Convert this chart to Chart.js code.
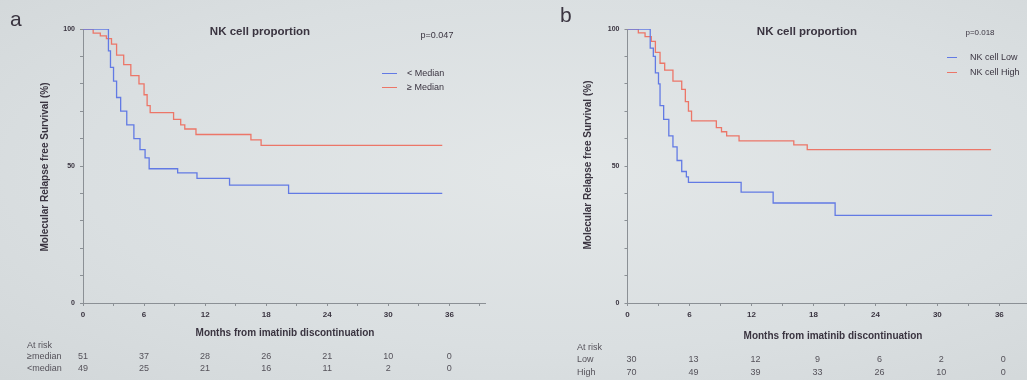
<!DOCTYPE html>
<html>
<head>
<meta charset="utf-8">
<script src="https://cdn.jsdelivr.net/npm/chart.js@4.4.1/dist/chart.umd.min.js"></script>
<style>
  html, body { margin: 0; padding: 0; }
  body {
    width: 1027px; height: 380px; overflow: hidden; position: relative;
    background: radial-gradient(ellipse at 55% 45%, #e3e7e8 0%, #dadfe1 60%, #d2d7d9 100%);
    font-family: "Liberation Sans", Arial, sans-serif; color: #3a3440;
  }
  canvas { position: absolute; top: 0; }
  .t { position: absolute; white-space: nowrap; line-height: 1; }
  .c { transform: translate(-50%, -50%); }
  .l { transform: translate(0, -50%); }
  .sw { position: absolute; height: 1px; }
</style>
</head>
<body>
<canvas id="chartA" width="510" height="380" style="left:0"></canvas>
<canvas id="chartB" width="540" height="380" style="left:510px"></canvas>
<div id="labels"></div>
<script>
// panel a: NK cell proportion split at the median
const aLowMonths  = [0, 2.5, 2.7, 3.0, 3.3, 3.7, 4.3, 5.0, 5.6, 6.1, 6.5, 9.3, 11.2, 14.4, 20.2, 35.3];
const aLowSurv    = [100, 92, 86, 81, 75, 70, 65, 60, 56, 53, 49, 47.5, 45.5, 43, 40, 40];
const aHighMonths = [0, 1.0, 1.7, 2.3, 2.8, 3.3, 4.0, 4.7, 5.5, 6.0, 6.3, 6.6, 8.9, 9.6, 10.0, 11.1, 16.5, 17.5, 35.3];
const aHighSurv   = [100, 98.5, 97.5, 96.5, 94.5, 90.5, 87, 83, 80, 76, 72, 69.5, 67, 65, 63.5, 61.5, 59.5, 57.5, 57.5];

// panel b: NK cell low / high
const bLowMonths  = [0, 2.2, 2.5, 2.7, 3.0, 3.15, 3.5, 4.0, 4.4, 4.8, 5.25, 5.7, 5.9, 11.0, 14.1, 20.1, 35.3];
const bLowSurv    = [100, 93, 90, 84, 80, 72, 67, 61, 57, 52, 48, 46, 44, 40.5, 36.5, 32, 32];
const bHighMonths = [0, 1.05, 1.7, 2.3, 2.7, 3.15, 3.6, 4.4, 5.25, 5.6, 5.9, 6.2, 8.6, 9.1, 9.6, 10.8, 16.1, 17.4, 35.2];
const bHighSurv   = [100, 98.6, 97.2, 95.5, 91.5, 87.5, 85, 81, 78, 73.5, 70, 66.5, 64, 62.5, 61, 59.2, 57.7, 56, 56];

const riskMonths = [0, 6, 12, 18, 24, 30, 36];
const aRiskHigh = [51, 37, 28, 26, 21, 10, 0];
const aRiskLow  = [49, 25, 21, 16, 11, 2, 0];
const bRiskLow  = [30, 13, 12, 9, 6, 2, 0];
const bRiskHigh = [70, 49, 39, 33, 26, 10, 0];

const BLUE = 'rgb(98, 122, 228)';
const RED = 'rgb(236, 118, 104)';
const AXIS = '#8b9095';
const INK = '#3a3440';

const toPts = (xs, ys) => xs.map((x, i) => ({ x, y: ys[i] }));

function makeChart(id, lowX, lowY, highX, highY, pad) {
  return new Chart(document.getElementById(id), {
    type: 'scatter',
    data: {
      datasets: [
        { data: toPts(lowX, lowY), borderColor: BLUE, showLine: true, stepped: true, pointRadius: 0, borderWidth: 1.3 },
        { data: toPts(highX, highY), borderColor: RED, showLine: true, stepped: true, pointRadius: 0, borderWidth: 1.3 }
      ]
    },
    options: {
      responsive: false,
      animation: false,
      layout: { padding: pad },
      plugins: { legend: { display: false }, tooltip: { enabled: false } },
      scales: {
        x: {
          type: 'linear', min: 0, max: 39.5,
          afterFit: s => { s.height = 20; },
          afterBuildTicks: s => { s.ticks = Array.from({ length: 14 }, (_, i) => ({ value: i * 3 })); },
          grid: { drawOnChartArea: false, tickLength: 3, color: AXIS },
          border: { color: AXIS, width: 1 },
          ticks: {
            autoSkip: false, maxRotation: 0, padding: 4, color: INK,
            font: { size: 8, weight: 'bold', family: '"Liberation Sans", Arial' },
            callback: v => (v % 6 === 0 ? v : '')
          }
        },
        y: {
          min: 0, max: 100,
          afterFit: s => { s.width = 30; },
          afterBuildTicks: s => { s.ticks = Array.from({ length: 11 }, (_, i) => ({ value: i * 10 })); },
          grid: { drawOnChartArea: false, tickLength: 3, color: AXIS },
          border: { color: AXIS, width: 1 },
          ticks: {
            autoSkip: false, padding: 5, color: INK,
            font: { size: 7, weight: 'bold', family: '"Liberation Sans", Arial' },
            callback: v => (v % 50 === 0 ? v : '')
          }
        }
      }
    }
  });
}

const chartA = makeChart('chartA', aLowMonths, aLowSurv, aHighMonths, aHighSurv,
  { left: 53, right: 25, top: 29, bottom: 57 });
const chartB = makeChart('chartB', bLowMonths, bLowSurv, bHighMonths, bHighSurv,
  { left: 87.5, right: 14.5, top: 29, bottom: 57 });

const box = document.getElementById('labels');
function label(text, x, y, cls, style) {
  const d = document.createElement('div');
  d.className = 't ' + cls;
  d.textContent = text;
  d.style.left = x + 'px';
  d.style.top = y + 'px';
  Object.assign(d.style, style || {});
  box.appendChild(d);
  return d;
}
function swatch(x1, x2, y, color) {
  const d = document.createElement('div');
  d.className = 'sw';
  d.style.left = x1 + 'px';
  d.style.width = (x2 - x1) + 'px';
  d.style.top = y + 'px';
  d.style.background = color;
  box.appendChild(d);
}

const small = { fontSize: '9px', color: '#55525a' };

// panel a texts
label('a', 10, 8, '', { fontSize: '21px' });
label('NK cell proportion', 260, 32, 'c', { fontSize: '11.5px', fontWeight: 'bold' });
label('p=0.047', 437, 35, 'c', { fontSize: '9px' });
swatch(382, 397, 73, BLUE);
swatch(382, 397, 87, RED);
label('< Median', 407, 73, 'l', { fontSize: '9px' });
label('\u2265 Median', 407, 87, 'l', { fontSize: '9px' });
label('Months from imatinib discontinuation', 285, 333, 'c', { fontSize: '10px', fontWeight: 'bold' });
label('Molecular Relapse free Survival (%)', 45, 167, '', {
  fontSize: '10px', fontWeight: 'bold', transform: 'translate(-50%, -50%) rotate(-90deg)'
});
label('At risk', 27, 345, 'l', small);
label('\u2265median', 27, 356, 'l', small);
label('<median', 27, 368, 'l', small);

// panel b texts
label('b', 560, 4, '', { fontSize: '21px' });
label('NK cell proportion', 807, 32, 'c', { fontSize: '11.5px', fontWeight: 'bold' });
label('p=0.018', 980, 33, 'c', { fontSize: '8px' });
swatch(947, 957, 57, BLUE);
swatch(947, 957, 72, RED);
label('NK cell Low', 970, 57, 'l', { fontSize: '9px' });
label('NK cell High', 970, 72, 'l', { fontSize: '9px' });
label('Months from imatinib discontinuation', 833, 336, 'c', { fontSize: '10px', fontWeight: 'bold' });
label('Molecular Relapse free Survival (%)', 588, 165, '', {
  fontSize: '10px', fontWeight: 'bold', transform: 'translate(-50%, -50%) rotate(-90deg)'
});
label('At risk', 577, 347, 'l', small);
label('Low', 577, 359, 'l', small);
label('High', 577, 372, 'l', small);

// at-risk numbers placed under the x scale ticks
function riskRow(chart, offsetX, values, y, shift) {
  const xs = chart.scales.x;
  values.forEach((v, i) => {
    label(String(v), offsetX + xs.getPixelForValue(riskMonths[i]) + shift, y, 'c', small);
  });
}
riskRow(chartA, 0, aRiskHigh, 356, 0);
riskRow(chartA, 0, aRiskLow, 368, 0);
riskRow(chartB, 510, bRiskLow, 359, 4);
riskRow(chartB, 510, bRiskHigh, 372, 4);
</script>
</body>
</html>
